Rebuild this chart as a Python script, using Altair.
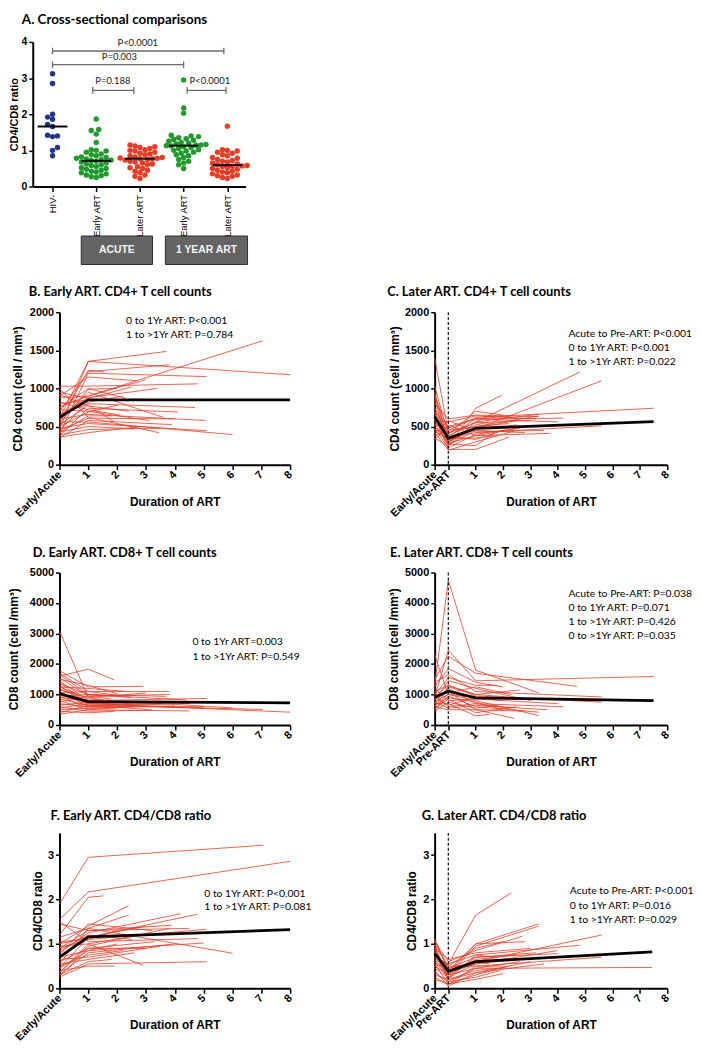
import json
import altair as alt
import pandas as pd

RED = "#ec3a24"
AXIS_FONT = "Liberation Sans"
TEXT_FONT = "Lato"

# ---------------- Panel A : cross-sectional CD4/CD8 ratio ----------------
A_GROUP_NAMES = ["HIV-", "Early ART", "Later ART", "Early ART", "Later ART"]
A_GROUP_COLORS = ["#1f3590", "#1f9b2b", "#ee3a22", "#1f9b2b", "#ee3a22"]
A_HIV_NEG = [3.12, 2.85, 2.00, 1.92, 1.86, 1.72, 1.66, 1.42, 1.40, 1.38, 1.08, 1.00, 0.85]
A_EARLY_ACUTE = [1.87, 1.58, 1.55, 1.45, 1.22, 1.02, 1.00, 0.98, 0.95, 0.90, 0.88, 0.85, 0.82,
                 0.80, 0.78, 0.76, 0.74, 0.73, 0.72, 0.70, 0.68, 0.65, 0.62, 0.60, 0.58, 0.55,
                 0.52, 0.50, 0.48, 0.45, 0.42, 0.40, 0.38, 0.35, 0.32, 0.30, 0.27, 0.25]
A_LATER_ACUTE = [1.15, 1.12, 1.10, 1.08, 1.05, 1.02, 1.00, 0.98, 0.95, 0.92, 0.90, 0.88, 0.85,
                 0.82, 0.80, 0.79, 0.78, 0.77, 0.76, 0.75, 0.73, 0.70, 0.68, 0.65, 0.62, 0.60,
                 0.55, 0.52, 0.50, 0.45, 0.42, 0.38, 0.32, 0.28, 0.22]
A_EARLY_1YR = [2.95, 2.17, 2.03, 1.42, 1.40, 1.38, 1.35, 1.32, 1.30, 1.28, 1.25, 1.22, 1.20,
               1.18, 1.16, 1.15, 1.14, 1.13, 1.12, 1.10, 1.08, 1.05, 1.02, 1.00, 0.98, 0.95,
               0.92, 0.88, 0.85, 0.80, 0.75, 0.70, 0.65, 0.60, 0.50]
A_LATER_1YR = [1.67, 1.02, 1.00, 0.98, 0.95, 0.92, 0.88, 0.85, 0.80, 0.78, 0.75, 0.72, 0.70,
               0.68, 0.65, 0.62, 0.60, 0.58, 0.57, 0.56, 0.55, 0.52, 0.50, 0.48, 0.45, 0.42,
               0.40, 0.38, 0.35, 0.32, 0.30, 0.28, 0.25, 0.22]

BRACKET_X1 = [1.0, 1.0, 1.92, 4.08]
BRACKET_X2 = [4.92, 4.0, 2.86, 4.97]
BRACKET_Y = [3.75, 3.37, 2.66, 2.66]
BRACKET_LABEL = ["P<0.0001", "P=0.003", "P=0.188", "P<0.0001"]
BRACKET_LABEL_X = [2.95, 2.53, 2.38, 4.60]
BRACKET_LABEL_Y = [3.97, 3.57, 2.93, 2.93]

PERIOD_LABEL = ["ACUTE", "1 YEAR ART"]
PERIOD_X1 = [1.657, 3.582]
PERIOD_X2 = [3.288, 5.462]
PERIOD_Y_TOP = [-1.37, -1.37]
PERIOD_Y_BOTTOM = [-2.16, -2.16]

# ---------------- Panel B : Early ART CD4 ----------------
B_ACUTE = [470, 610, 560, 690, 400, 1030, 540, 880, 760, 950, 800, 450, 650, 920, 380, 720, 500,
           600, 420, 1000, 350, 560, 480, 430, 390, 820, 650, 520, 740, 360, 580, 450, 900]
B_YEAR1 = [1355, 1355, 1240, 1220, 1200, 1030, 990, 900, 900, 870, 850, 820, 800, 770, 740, 700,
           690, 660, 640, 620, 580, 560, 540, 500, 460, 720, 880, 780, 1000, 420, 950, 610, 1150]
B_LAST_T = [3.70, 8.00, 1.55, 3.80, 5.10, 4.80, 2.00, 7.05, 3.00, 2.50, 2.90, 2.20, 4.70, 2.40,
            4.10, 3.10, 2.00, 5.05, 1.80, 3.45, 3.90, 6.00, 5.10, 2.60, 3.50, 2.10, 3.40, 1.90,
            2.30, 2.80, 3.60, 4.00, 2.70]
B_LAST_V = [1485, 1180, 1215, 1310, 1155, 1060, 1000, 1625, 1115, 1020, 860, 900, 750, 700, 690,
            580, 780, 580, 640, 420, 525, 395, 445, 470, 480, 650, 1000, 560, 870, 500, 620, 600, 1100]
B_MEAN_T = [0, 1, 8]
B_MEAN_V = [620, 850, 850]
B_NOTES = ["0 to 1Yr ART: P<0.001", "1 to  >1Yr  ART: P=0.784"]
B_NOTES_X = 2.31
B_NOTES_Y = [1880, 1700]

# ---------------- Panel C : Later ART CD4 ----------------
C_ACUTE = [1400, 1030, 950, 900, 850, 800, 750, 700, 680, 650, 620, 600, 580, 560, 540, 520, 500,
           480, 460, 440, 420, 400, 380, 350, 320, 700, 600, 900]
C_PRE = [420, 380, 300, 450, 250, 600, 350, 500, 280, 200, 420, 320, 560, 380, 260, 480, 300, 220,
         400, 340, 190, 580, 450, 240, 520, 360, 270, 300]
C_YEAR1 = [500, 560, 470, 620, 740, 650, 420, 600, 380, 200, 550, 480, 640, 330, 450, 600, 520,
           400, 700, 350, 300, 430, 500, 560, 380, 600, 250, 480]
C_LAST_T = [3.3, 4.8, 5.6, 7.5, 1.95, 3.3, 5.6, 4.2, 3.7, 2.2, 3.0, 2.5, 3.2, 2.0, 2.8, 2.3, 1.5,
            2.6, 2.0, 1.8, 2.4, 3.5, 2.2, 3.3, 2.9, 4.0, 1.7, 2.5]
C_LAST_V = [640, 1215, 1100, 740, 910, 630, 510, 610, 410, 360, 580, 520, 600, 450, 420, 640, 560,
            480, 650, 380, 440, 450, 540, 660, 500, 560, 420, 580]
C_MEAN_T = [-0.5, 0, 1, 7.5]
C_MEAN_V = [630, 345, 475, 565]
C_NOTES = ["Acute to Pre-ART: P<0.001", "0 to 1Yr ART: P<0.001", "1 to  >1Yr  ART: P=0.022"]
C_NOTES_X = 4.39
C_NOTES_Y = [1716, 1534, 1352]

# ---------------- Panel D : Early ART CD8 ----------------
D_ACUTE = [3080, 1600, 1780, 1700, 1550, 1500, 1450, 1400, 1350, 1300, 1250, 1200, 1150, 1100,
           1050, 1000, 950, 900, 850, 800, 750, 700, 650, 600, 550, 500, 450, 400, 350, 1650, 1250, 950]
D_YEAR1 = [900, 1830, 1250, 1100, 950, 1300, 800, 700, 1000, 650, 850, 750, 900, 600, 1100, 700,
           550, 800, 650, 500, 950, 600, 750, 450, 700, 550, 400, 650, 500, 1000, 1200, 1000]
D_LAST_T = [1.5, 1.9, 2.9, 3.8, 3.8, 2.0, 5.1, 8.0, 2.5, 7.05, 6.0, 4.0, 3.0, 5.0, 2.2, 3.5, 2.7,
            4.5, 3.2, 2.0, 1.8, 4.2, 2.4, 3.0, 5.0, 2.6, 1.9, 3.6, 4.5, 3.7, 2.3, 4.4]
D_LAST_V = [820, 1480, 1270, 1100, 1000, 1020, 870, 420, 900, 510, 560, 650, 1050, 600, 950, 780,
            600, 700, 500, 560, 850, 750, 650, 480, 560, 600, 450, 700, 460, 940, 1100, 820]
D_MEAN_T = [0, 1, 8]
D_MEAN_V = [1030, 770, 725]
D_NOTES = ["0 to 1Yr ART=0.003", "1 to  >1Yr  ART: P=0.549"]
D_NOTES_X = 4.61
D_NOTES_Y = [2708, 2243]

# ---------------- Panel E : Later ART CD8 ----------------
E_ACUTE = [1300, 900, 1500, 2300, 1250, 1400, 1000, 800, 950, 700, 600, 850, 750, 500, 650, 550,
           1200, 450, 700, 900, 1000, 750, 600, 1100, 500]
E_PRE = [4750, 2450, 2250, 1000, 1850, 1650, 1550, 1450, 1300, 1250, 1200, 1100, 1000, 950, 900,
         850, 800, 750, 700, 650, 600, 550, 500, 1300, 1050]
E_YEAR1 = [1800, 1450, 1700, 900, 1400, 1100, 1300, 1200, 950, 1000, 700, 500, 800, 600, 750, 400,
           850, 550, 300, 900, 700, 650, 500, 1000, 1250]
E_LAST_T = [3.3, 7.5, 4.7, 2.0, 2.0, 5.6, 1.8, 3.0, 5.6, 2.5, 4.2, 2.4, 3.3, 3.3, 2.0, 2.5, 4.0,
            1.8, 1.5, 3.0, 2.2, 3.6, 2.8, 2.6, 2.3]
E_LAST_V = [1050, 1590, 1265, 800, 1250, 920, 1300, 800, 750, 900, 600, 220, 310, 420, 500, 600,
            700, 650, 350, 850, 550, 500, 450, 1150, 1000]
E_MEAN_T = [-0.5, 0, 1, 7.5]
E_MEAN_V = [910, 1110, 890, 800]
E_NOTES = ["Acute to Pre-ART: P=0.038", "0 to 1Yr ART: P=0.071", "1 to  >1Yr  ART: P=0.426",
           "0 to >1Yr ART: P=0.035"]
E_NOTES_X = 4.39
E_NOTES_Y = [4295, 3836, 3388, 2926]

# ---------------- Panel F : Early ART CD4/CD8 ratio ----------------
F_ACUTE = [1.90, 1.55, 1.20, 1.00, 0.55, 0.80, 0.45, 1.45, 0.90, 0.35, 1.50, 0.70, 0.30, 1.15,
           0.25, 0.95, 0.40, 0.60, 0.85, 0.50, 0.75, 0.30, 1.05, 0.65, 0.35, 0.55, 0.28, 0.90, 1.00, 0.45]
F_YEAR1 = [2.95, 2.17, 2.05, 1.40, 1.35, 1.25, 1.15, 1.30, 1.10, 0.95, 1.05, 0.85, 0.80, 1.35,
           0.55, 1.00, 0.50, 0.90, 1.20, 0.75, 1.45, 0.60, 1.10, 0.70, 1.00, 0.65, 0.90, 1.30, 1.15, 0.85]
F_LAST_T = [7.05, 8.0, 1.5, 2.4, 2.4, 4.2, 4.8, 3.9, 5.1, 3.8, 4.8, 5.0, 4.0, 6.0, 5.1, 2.9, 1.9,
            3.0, 2.5, 2.2, 3.2, 1.8, 2.0, 3.5, 2.8, 2.6, 3.3, 4.5, 3.0, 2.0]
F_LAST_V = [3.22, 2.86, 2.08, 1.86, 1.65, 1.68, 1.67, 1.42, 1.33, 1.35, 1.12, 1.02, 1.00, 0.79,
            0.60, 0.52, 0.50, 0.90, 1.10, 0.85, 1.30, 0.65, 1.30, 0.95, 1.20, 0.80, 1.05, 1.35, 1.40, 1.00]
F_MEAN_T = [0, 1, 8]
F_MEAN_V = [0.70, 1.16, 1.32]
F_NOTES = ["0 to 1Yr ART: P<0.001", "1 to  >1Yr  ART: P=0.081"]
F_NOTES_X = 5.02
F_NOTES_Y = [2.12, 1.82]

# ---------------- Panel G : Later ART CD4/CD8 ratio ----------------
G_ACUTE = [0.50, 1.10, 0.90, 1.05, 0.80, 0.95, 0.70, 0.60, 1.00, 0.85, 0.55, 0.75, 0.40, 0.65,
           0.30, 0.20, 0.90, 0.45, 1.10, 0.35, 0.60, 0.80, 0.50, 0.70, 1.00, 0.25]
G_PRE = [0.55, 0.40, 0.30, 0.60, 0.45, 0.20, 0.35, 0.25, 0.50, 0.15, 0.10, 0.50, 0.05, 0.30, 0.20,
         0.10, 0.65, 0.25, 0.40, 0.15, 0.35, 0.45, 0.30, 0.55, 0.20, 0.08]
G_YEAR1 = [1.65, 1.00, 0.95, 0.85, 0.60, 0.75, 0.55, 0.70, 0.50, 0.45, 0.20, 0.90, 0.35, 0.65,
           0.40, 0.30, 0.80, 0.55, 0.60, 0.25, 1.00, 0.70, 0.45, 0.75, 0.35, 0.50]
G_LAST_T = [2.3, 3.3, 3.3, 2.7, 5.6, 4.8, 4.0, 4.0, 5.6, 7.45, 2.0, 2.0, 3.0, 2.5, 1.8, 2.2, 3.0,
            2.4, 1.5, 1.9, 2.8, 3.2, 2.6, 1.7, 3.5, 2.0]
G_LAST_V = [2.15, 1.45, 1.40, 1.17, 1.20, 0.97, 0.85, 0.78, 0.70, 0.47, 0.33, 1.05, 0.60, 0.75,
            0.45, 0.50, 0.90, 0.65, 0.55, 0.40, 1.05, 0.80, 0.60, 0.70, 0.55, 0.50]
G_MEAN_T = [-0.5, 0, 1, 7.45]
G_MEAN_V = [0.79, 0.38, 0.60, 0.82]
G_NOTES = ["Acute to Pre-ART: P<0.001", "0 to 1Yr ART: P=0.016", "1 to  >1Yr  ART: P=0.029"]
G_NOTES_X = 4.44
G_NOTES_Y = [2.18, 1.86, 1.54]

PANEL_TITLES = {
    "A": "A. Cross-sectional comparisons",
    "B": "B. Early  ART. CD4+ T cell counts",
    "C": "C. Later  ART. CD4+ T cell counts",
    "D": "D. Early  ART. CD8+ T cell counts",
    "E": "E. Later ART. CD8+ T cell counts",
    "F": "F. Early  ART. CD4/CD8 ratio",
    "G": "G. Later ART. CD4/CD8 ratio",
}


# ======================= helpers =======================
def beeswarm(values, centre, ppu_x=44.15, ppu_y=36.5, diam=5.0):
    """Deterministic beeswarm: place each point at the nearest free horizontal slot."""
    placed = []
    xs = [0.0] * len(values)
    order = sorted(range(len(values)), key=lambda i: values[i])
    for n, i in enumerate(order):
        y = values[i] * ppu_y
        first = 1 if n % 2 == 0 else -1
        k = 0
        chosen = None
        while chosen is None:
            cands = [0.0] if k == 0 else [first * k * diam / 2, -first * k * diam / 2]
            for c in cands:
                if all((c - px) ** 2 + (y - py) ** 2 >= diam * diam for px, py in placed):
                    chosen = c
                    break
            k += 1
        placed.append((chosen, y))
        xs[i] = centre + chosen / ppu_x
    return xs


def early_long(acute, yr1, last_t, last_v):
    rows = []
    for i, (a, y1, t, v) in enumerate(zip(acute, yr1, last_t, last_v)):
        rows += [{"s": i, "t": 0.0, "v": a}, {"s": i, "t": 1.0, "v": y1}, {"s": i, "t": t, "v": v}]
    return pd.DataFrame(rows)


def later_long(acute, pre, yr1, last_t, last_v):
    rows = []
    for i, (a, p, y1, t, v) in enumerate(zip(acute, pre, yr1, last_t, last_v)):
        rows += [{"s": i, "t": -0.5, "v": a}, {"s": i, "t": 0.0, "v": p},
                 {"s": i, "t": 1.0, "v": y1}, {"s": i, "t": t, "v": v}]
    return pd.DataFrame(rows)


def line_panel(df, mean_t, mean_v, notes, notes_x, notes_y, *, later, y_max, y_ticks, y_title,
               title, title_x, title_y, y_title_x, width, height):
    x_min = -0.5 if later else 0.0
    xs = alt.Scale(domain=[x_min, 8], nice=False, zero=False)
    ys = alt.Scale(domain=[0, y_max], nice=False, zero=False)
    x_vals = ([-0.5, 0] if later else [0]) + list(range(1, 9))
    if later:
        lab = "datum.value == -0.5 ? 'Early/Acute' : (datum.value == 0 ? 'Pre-ART' : '' + datum.value)"
    else:
        lab = "datum.value == 0 ? 'Early/Acute' : '' + datum.value"
    xa = alt.Axis(values=x_vals, labelExpr=lab, labelAngle=-45, labelAlign="right",
                  labelBaseline="middle", labelPadding=3, labelFontSize=11, labelFont=AXIS_FONT,
                  labelFontWeight="bold", labelOverlap=False, labelFlush=False, tickSize=5,
                  tickWidth=1.5, domainWidth=2, grid=False, title="Duration of ART",
                  titleFont=AXIS_FONT, titleFontSize=12, titleFontWeight="bold", titleY=41,
                  titleBaseline="alphabetic")
    ya = alt.Axis(values=y_ticks, format="d", labelPadding=2, labelFontSize=11,
                  labelFont=AXIS_FONT, labelFontWeight="bold", tickSize=4, tickWidth=1.5,
                  domainWidth=2, grid=False, title=y_title, titleFont=AXIS_FONT, titleFontSize=12,
                  titleFontWeight="bold", titleX=y_title_x, titleBaseline="top")

    def X(f):
        return alt.X(f, scale=xs, axis=xa)

    def Y(f):
        return alt.Y(f, scale=ys, axis=ya)

    lines = alt.Chart(df).mark_line(color=RED, strokeWidth=0.8).encode(
        x=X("t:Q"), y=Y("v:Q"), detail="s:N")
    mean = alt.Chart(pd.DataFrame({"t": mean_t, "v": mean_v})).mark_line(
        color="black", strokeWidth=2.8).encode(x=X("t:Q"), y=Y("v:Q"))
    ann = alt.Chart(pd.DataFrame({"label": notes, "t": [notes_x] * len(notes), "v": notes_y})).mark_text(
        align="left", baseline="middle", font=TEXT_FONT, fontSize=10.5, color="black").encode(
        x=X("t:Q"), y=Y("v:Q"), text="label:N")
    ttl = alt.Chart(pd.DataFrame({"label": [title], "t": [title_x], "v": [title_y]})).mark_text(
        align="left", baseline="alphabetic", font=TEXT_FONT, fontSize=13, fontWeight="bold",
        color="black").encode(x=X("t:Q"), y=Y("v:Q"), text="label:N")
    layers = [lines, mean]
    if later:
        ref = alt.Chart(pd.DataFrame({"t": [0.0], "v": [float(y_max)], "v0": [0.0]})).mark_rule(
            color="#222222", strokeWidth=1.3, strokeDash=[3, 2]).encode(
            x=X("t:Q"), y=Y("v:Q"), y2="v0:Q")
        layers.append(ref)
    layers += [ann, ttl]
    return alt.layer(*layers).properties(width=width, height=height)


# ======================= Panel A =======================
a_groups = [A_HIV_NEG, A_EARLY_ACUTE, A_LATER_ACUTE, A_EARLY_1YR, A_LATER_1YR]
a_rows = []
for gi, vals in enumerate(a_groups):
    centre = gi + 1
    for xv, v in zip(beeswarm(vals, centre), vals):
        a_rows.append({"g": f"g{gi}", "c": centre, "x": xv, "v": v})
a_df = pd.DataFrame(a_rows)

ax_scale = alt.Scale(domain=[0.547, 5.417], nice=False, zero=False)
ay_scale = alt.Scale(domain=[0, 4], nice=False, zero=False)
a_lab = "%s[datum.value - 1]" % json.dumps(A_GROUP_NAMES)
ax_axis = alt.Axis(values=[1, 2, 3, 4, 5], labelExpr=a_lab, labelAngle=-90, labelAlign="right",
                   labelBaseline="middle", labelFont=AXIS_FONT, labelFontSize=9.5,
                   labelFontWeight="normal", labelPadding=3, tickSize=5, tickWidth=1.5,
                   domainWidth=2, grid=False, title=None, labelOverlap=False, labelFlush=False)
ay_axis = alt.Axis(values=[0, 1, 2, 3, 4], format="d", labelFont=AXIS_FONT, labelFontSize=10.5,
                   labelFontWeight="bold", labelPadding=2, tickSize=4, tickWidth=1.5,
                   domainWidth=2, grid=False, title="CD4/CD8 ratio", titleFont=AXIS_FONT,
                   titleFontSize=11, titleFontWeight="bold", titleX=-24, titleBaseline="top")


def AX(f):
    return alt.X(f, scale=ax_scale, axis=ax_axis)


def AY(f):
    return alt.Y(f, scale=ay_scale, axis=ay_axis)


a_points = alt.Chart(a_df).mark_circle(size=30, opacity=1).encode(
    x=AX("x:Q"), y=AY("v:Q"),
    color=alt.Color("g:N", scale=alt.Scale(domain=[f"g{i}" for i in range(5)], range=A_GROUP_COLORS),
                    legend=None))
a_median = alt.Chart(a_df).transform_aggregate(
    med="median(v)", groupby=["g", "c"]
).transform_calculate(x1="datum.c - 0.34", x2="datum.c + 0.34").mark_rule(
    color="black", strokeWidth=2).encode(x=AX("x1:Q"), x2="x2:Q", y=AY("med:Q"))

br_df = pd.DataFrame({"x1": BRACKET_X1, "x2": BRACKET_X2, "y": BRACKET_Y})
br_h = alt.Chart(br_df).mark_rule(color="#6d6d6d", strokeWidth=1.3).encode(
    x=AX("x1:Q"), x2="x2:Q", y=AY("y:Q"))
end_rows = []
for x1, x2, y in zip(BRACKET_X1, BRACKET_X2, BRACKET_Y):
    for xe in (x1, x2):
        end_rows.append({"x": xe, "y1": y - 0.09, "y2": y + 0.09})
br_v = alt.Chart(pd.DataFrame(end_rows)).mark_rule(color="#6d6d6d", strokeWidth=1.3).encode(
    x=AX("x:Q"), y=AY("y1:Q"), y2="y2:Q")
br_t = alt.Chart(pd.DataFrame({"label": BRACKET_LABEL, "x": BRACKET_LABEL_X, "y": BRACKET_LABEL_Y})).mark_text(
    font=TEXT_FONT, fontSize=9.5, color="#222222", baseline="middle", align="center").encode(
    x=AX("x:Q"), y=AY("y:Q"), text="label:N")

per_df = pd.DataFrame({"label": PERIOD_LABEL, "x1": PERIOD_X1, "x2": PERIOD_X2,
                       "y1": PERIOD_Y_TOP, "y2": PERIOD_Y_BOTTOM})
per_df["xm"] = (per_df["x1"] + per_df["x2"]) / 2
per_df["ym"] = (per_df["y1"] + per_df["y2"]) / 2
per_rect = alt.Chart(per_df).mark_rect(fill="#646464", stroke="#2e2e2e", strokeWidth=1).encode(
    x=AX("x1:Q"), x2="x2:Q", y=AY("y1:Q"), y2="y2:Q")
per_text = alt.Chart(per_df).mark_text(font=AXIS_FONT, fontSize=10.5, fontWeight="bold",
                                       color="#f4f4f4", baseline="middle").encode(
    x=AX("xm:Q"), y=AY("ym:Q"), text="label:N")
a_title = alt.Chart(pd.DataFrame({"label": [PANEL_TITLES["A"]], "x": [0.298], "y": [4.493]})).mark_text(
    align="left", baseline="alphabetic", font=TEXT_FONT, fontSize=13.5, fontWeight="bold",
    color="black").encode(x=AX("x:Q"), y=AY("y:Q"), text="label:N")

panel_a = alt.layer(per_rect, per_text, br_h, br_v, br_t, a_points, a_median, a_title).properties(
    width=215, height=146)

# ======================= Panels B-G =======================
cd4_ticks = [0, 500, 1000, 1500, 2000]
cd8_ticks = [0, 1000, 2000, 3000, 4000, 5000]
ratio_ticks = [0, 1, 2, 3]

panel_b = line_panel(early_long(B_ACUTE, B_YEAR1, B_LAST_T, B_LAST_V), B_MEAN_T, B_MEAN_V,
                     B_NOTES, B_NOTES_X, B_NOTES_Y, later=False, y_max=2000, y_ticks=cd4_ticks,
                     y_title="CD4 count (cell / mm³)", title=PANEL_TITLES["B"],
                     title_x=-1.064, title_y=2208, y_title_x=-47, width=233, height=154)
panel_c = line_panel(later_long(C_ACUTE, C_PRE, C_YEAR1, C_LAST_T, C_LAST_V), C_MEAN_T, C_MEAN_V,
                     C_NOTES, C_NOTES_X, C_NOTES_Y, later=True, y_max=2000, y_ticks=cd4_ticks,
                     y_title="CD4 count (cell / mm³)", title=PANEL_TITLES["C"],
                     title_x=-2.236, title_y=2208, y_title_x=-46, width=235, height=154)
panel_d = line_panel(early_long(D_ACUTE, D_YEAR1, D_LAST_T, D_LAST_V), D_MEAN_T, D_MEAN_V,
                     D_NOTES, D_NOTES_X, D_NOTES_Y, later=False, y_max=5000, y_ticks=cd8_ticks,
                     y_title="CD8 count (cell  /mm³)", title=PANEL_TITLES["D"],
                     title_x=-0.927, title_y=5520, y_title_x=-51, width=233, height=154)
panel_e = line_panel(later_long(E_ACUTE, E_PRE, E_YEAR1, E_LAST_T, E_LAST_V), E_MEAN_T, E_MEAN_V,
                     E_NOTES, E_NOTES_X, E_NOTES_Y, later=True, y_max=5000, y_ticks=cd8_ticks,
                     y_title="CD8 count (cell  /mm³)", title=PANEL_TITLES["E"],
                     title_x=-2.127, title_y=5520, y_title_x=-47, width=235, height=154)
panel_f = line_panel(early_long(F_ACUTE, F_YEAR1, F_LAST_T, F_LAST_V), F_MEAN_T, F_MEAN_V,
                     F_NOTES, F_NOTES_X, F_NOTES_Y, later=False, y_max=3.5, y_ticks=ratio_ticks,
                     y_title="CD4/CD8 ratio", title=PANEL_TITLES["F"],
                     title_x=-0.309, title_y=3.79, y_title_x=-27, width=233, height=157)
panel_g = line_panel(later_long(G_ACUTE, G_PRE, G_YEAR1, G_LAST_T, G_LAST_V), G_MEAN_T, G_MEAN_V,
                     G_NOTES, G_NOTES_X, G_NOTES_Y, later=True, y_max=3.5, y_ticks=ratio_ticks,
                     y_title="CD4/CD8 ratio", title=PANEL_TITLES["G"],
                     title_x=-0.970, title_y=3.79, y_title_x=-28, width=235, height=157)

grid = alt.concat(panel_b, panel_c, panel_d, panel_e, panel_f, panel_g, columns=2,
                  spacing={"row": 109, "column": 146}, bounds="flush")

# narrow empty column that sets the grid 27px to the right of panel A's plot area
spacer = alt.Chart(pd.DataFrame({"v": [0]})).mark_point(opacity=0, size=1).encode(
    x=alt.value(0), y=alt.value(0)).properties(width=1, height=1)
lower = alt.hconcat(spacer, grid, spacing=26, bounds="flush")

chart = alt.vconcat(panel_a, lower, spacing=20).properties(
    padding=0, background="white"
).configure_view(stroke=None).configure_axis(
    labelColor="black", titleColor="black", domainColor="black", tickColor="black")

chart.save("out.html", embed_options={"renderer": "svg", "actions": False})
